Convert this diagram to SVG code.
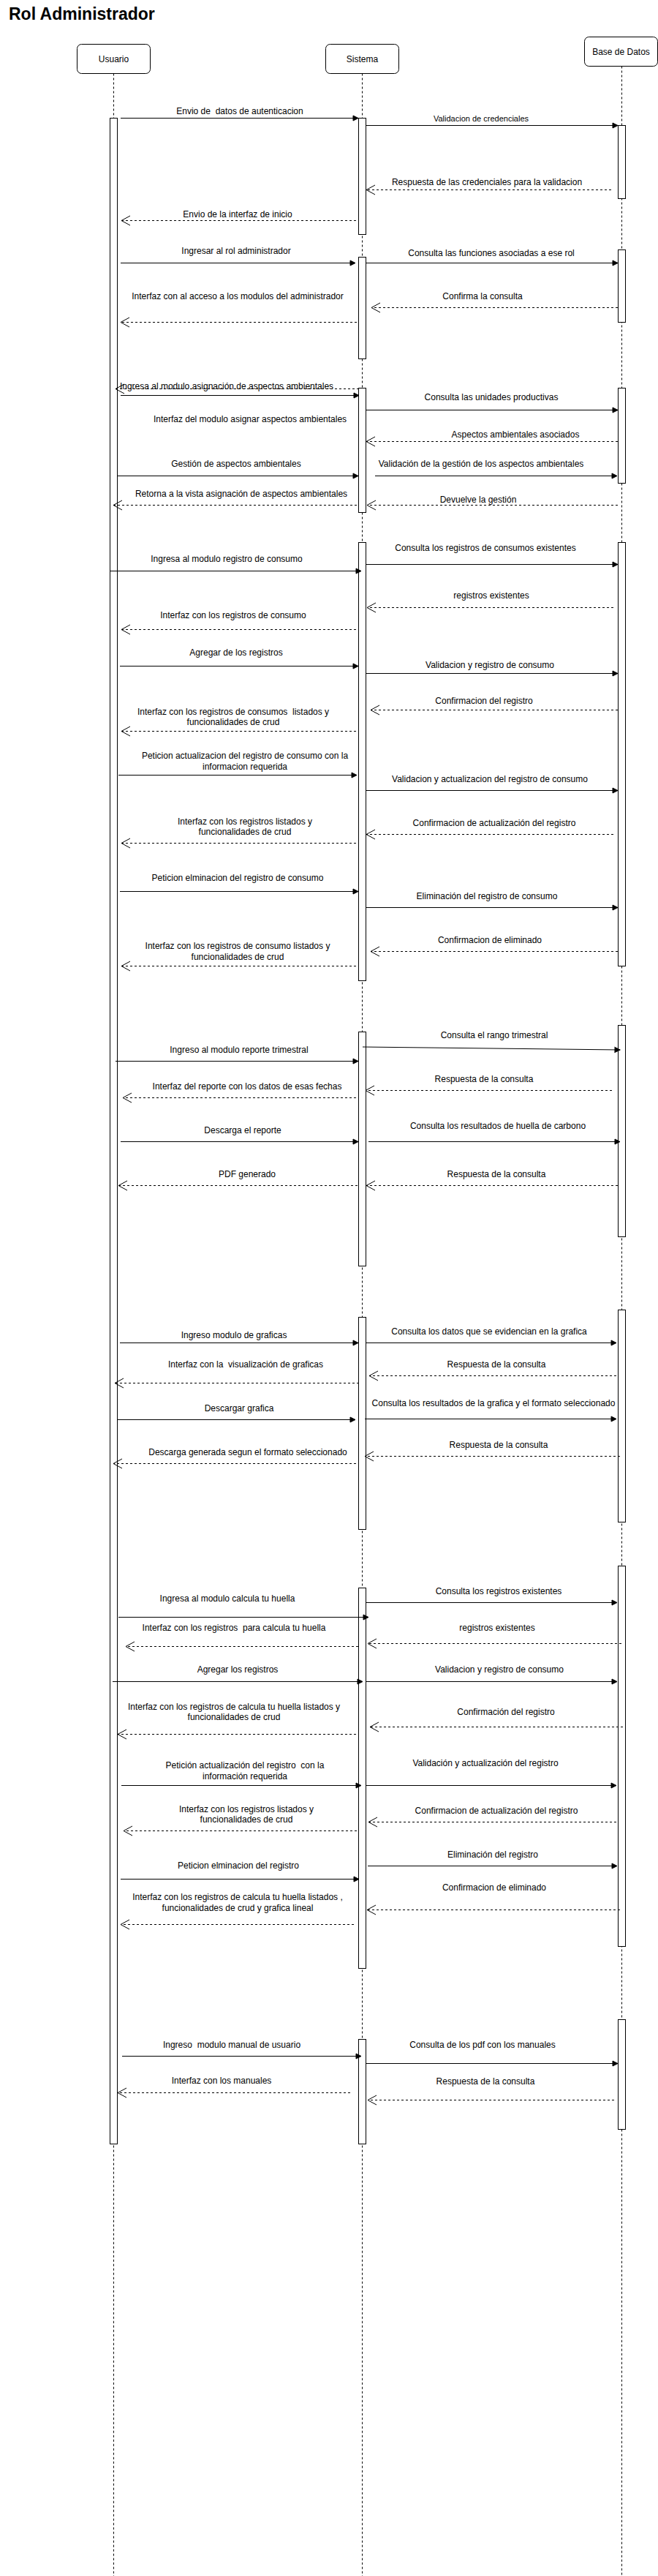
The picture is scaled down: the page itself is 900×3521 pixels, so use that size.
<svg xmlns="http://www.w3.org/2000/svg" width="900" height="3521" viewBox="0 0 900 3521">
<style>
text{font-family:"Liberation Sans",Arial,Helvetica,sans-serif;font-size:12px;fill:#000}
.title{font-size:23px;font-weight:bold}
.c{text-anchor:middle}
.s11{font-size:11px}
.box{fill:#fff;stroke:#000;stroke-width:1}
.life{fill:none;stroke:#000;stroke-width:1;stroke-dasharray:3 3}
.act{fill:#fff;stroke:#000;stroke-width:1}
.msg{fill:none;stroke:#000;stroke-width:1;marker-end:url(#block)}
.ret{fill:none;stroke:#000;stroke-width:1;stroke-dasharray:3 3;marker-end:url(#open)}
</style>
<defs>
<marker id="block" markerUnits="userSpaceOnUse" viewBox="-9 -5 10 10" markerWidth="10" markerHeight="10" refX="0" refY="0" orient="auto" overflow="visible">
<path d="M-7,-3.5 L0,0 L-7,3.5 Z" fill="#000" stroke="#000" stroke-width="1" stroke-dasharray="none"/>
</marker>
<marker id="open" markerUnits="userSpaceOnUse" viewBox="-14 -8 16 16" markerWidth="16" markerHeight="16" refX="0" refY="0" orient="auto" overflow="visible">
<path d="M-12,-6.5 L0,0 L-12,6.5" fill="none" stroke="#000" stroke-width="1" stroke-dasharray="none"/>
</marker>
</defs>
<rect width="900" height="3521" fill="#fff"/>
<text class="title" x="12" y="27">Rol Administrador</text>

<g id="usuario">
<path class="life" d="M155.5,100.5 V3521"/>
<rect class="box" x="105.5" y="60.5" width="100" height="40" rx="6"/>
<text class="c" x="155.5" y="85">Usuario</text>
<rect class="act" x="150.5" y="161.5" width="10" height="2769"/>
</g>

<g id="sistema">
<path class="life" d="M495.5,100.5 V3521"/>
<rect class="box" x="445.5" y="60.5" width="100" height="40" rx="6"/>
<text class="c" x="495.5" y="85">Sistema</text>
<rect class="act" x="490.5" y="161.5" width="10" height="159"/>
<rect class="act" x="490.5" y="351.5" width="10" height="139"/>
<rect class="act" x="490.5" y="530.5" width="10" height="170"/>
<rect class="act" x="490.5" y="741.5" width="10" height="599"/>
<rect class="act" x="490.5" y="1410.5" width="10" height="320"/>
<rect class="act" x="490.5" y="1800.5" width="10" height="290"/>
<rect class="act" x="490.5" y="2170.5" width="10" height="520"/>
<rect class="act" x="490.5" y="2787.5" width="10" height="143"/>
</g>

<g id="basedatos">
<path class="life" d="M850.5,90.5 V3521"/>
<rect class="box" x="799.5" y="50.5" width="100" height="40" rx="6"/>
<text class="c" x="849.5" y="75">Base de Datos</text>
<rect class="act" x="845.5" y="171.5" width="10" height="100"/>
<rect class="act" x="845.5" y="341.5" width="10" height="99"/>
<rect class="act" x="845.5" y="530.5" width="10" height="130"/>
<rect class="act" x="845.5" y="741.5" width="10" height="579"/>
<rect class="act" x="845.5" y="1401.5" width="10" height="289"/>
<rect class="act" x="845.5" y="1790.5" width="10" height="290"/>
<rect class="act" x="845.5" y="2140.5" width="10" height="520"/>
<rect class="act" x="845.5" y="2760.5" width="10" height="150"/>
</g>

<g id="connectors">
<path class="msg" d="M165,161.5 H490"/>
<text class="c" x="328" y="156">Envio de &#160;datos de autenticacion</text>
<path class="msg" d="M500,171.5 H845"/>
<text class="c s11" x="658" y="166">Validacion de credenciales</text>
<path class="ret" d="M836,259.5 H501"/>
<text class="c" x="666" y="253">Respuesta de las credenciales para la validacion</text>
<path class="ret" d="M487,301.5 H166"/>
<text class="c" x="325" y="297">Envio de la interfaz de inicio</text>

<path class="msg" d="M165,359.5 H486"/>
<text class="c" x="323" y="347">Ingresar al rol administrador</text>
<path class="msg" d="M501,359.5 H845"/>
<text class="c" x="672" y="350">Consulta las funciones asociadas a ese rol</text>
<path class="ret" d="M845,420.5 H508"/>
<text class="c" x="660" y="409">Confirma la consulta</text>
<path class="ret" d="M488,440.5 H165"/>
<text class="c" x="325" y="409">Interfaz con al acceso a los modulos del administrador</text>

<path class="ret" d="M491,531.5 H158"/>
<text class="c" x="310" y="532">Ingresa al modulo asignación de aspectos ambientales</text>
<path class="msg" d="M165,540.5 H491"/>
<path class="msg" d="M501,560.5 H845"/>
<text class="c" x="672" y="547">Consulta las unidades productivas</text>
<text class="c" x="342" y="577">Interfaz del modulo asignar aspectos ambientales</text>
<path class="ret" d="M845,603.5 H501"/>
<text class="c" x="705" y="598">Aspectos ambientales asociados</text>
<path class="msg" d="M161,650.5 H490"/>
<text class="c" x="323" y="638">Gestión de aspectos ambientales</text>
<path class="msg" d="M513,650.5 H844"/>
<text class="c" x="658" y="638">Validación de la gestión de los aspectos ambientales</text>
<path class="ret" d="M488,690.5 H155"/>
<text class="c" x="330" y="679">Retorna a la vista asignación de aspectos ambientales</text>
<path class="ret" d="M845,690.5 H502"/>
<text class="c" x="654" y="687">Devuelve la gestión</text>

<path class="msg" d="M501,771.5 H845"/>
<text class="c" x="664" y="753">Consulta los registros de consumos existentes</text>
<path class="msg" d="M150,780.5 H494"/>
<text class="c" x="310" y="768">Ingresa al modulo registro de consumo</text>
<path class="ret" d="M839,830.5 H502"/>
<text class="c" x="672" y="818">registros existentes</text>
<path class="ret" d="M487,860.5 H166"/>
<text class="c" x="319" y="845">Interfaz con los registros de consumo</text>
<path class="msg" d="M164,910.5 H490"/>
<text class="c" x="323" y="896">Agregar de los registros</text>
<path class="msg" d="M501,920.5 H845"/>
<text class="c" x="670" y="913">Validacion y registro de consumo</text>
<path class="ret" d="M845,970.5 H507"/>
<text class="c" x="662" y="962">Confirmacion del registro</text>
<path class="ret" d="M487,999.5 H166"/>
<text class="c" x="319" y="977">Interfaz con los registros de consumos &#160;listados y</text>
<text class="c" x="319" y="991">funcionalidades de crud</text>
<path class="msg" d="M162,1059.5 H488"/>
<text class="c" x="335" y="1037">Peticion actualizacion del registro de consumo con la</text>
<text class="c" x="335" y="1052">informacion requerida</text>
<path class="msg" d="M501,1080.5 H845"/>
<text class="c" x="670" y="1069">Validacion y actualizacion del registro de consumo</text>
<path class="ret" d="M487,1152.5 H166"/>
<text class="c" x="335" y="1127">Interfaz con los registros listados y</text>
<text class="c" x="335" y="1141">funcionalidades de crud</text>
<path class="ret" d="M839,1140.5 H501"/>
<text class="c" x="676" y="1129">Confirmacion de actualización del registro</text>
<path class="msg" d="M164,1218.5 H490"/>
<text class="c" x="325" y="1204">Peticion elminacion del registro de consumo</text>
<path class="msg" d="M501,1240.5 H845"/>
<text class="c" x="666" y="1229">Eliminación del registro de consumo</text>
<path class="ret" d="M845,1300.5 H507"/>
<text class="c" x="670" y="1289">Confirmacion de eliminado</text>
<path class="ret" d="M487,1320.5 H166"/>
<text class="c" x="325" y="1297">Interfaz con los registros de consumo listados y</text>
<text class="c" x="325" y="1312">funcionalidades de crud</text>

<path class="msg" d="M496,1431 L848,1435"/>
<text class="c" x="676" y="1419">Consulta el rango trimestral</text>
<path class="msg" d="M158,1450.5 H490"/>
<text class="c" x="327" y="1439">Ingreso al modulo reporte trimestral</text>
<path class="ret" d="M837,1490.5 H500"/>
<text class="c" x="662" y="1479">Respuesta de la consulta</text>
<path class="ret" d="M487,1500.5 H168"/>
<text class="c" x="338" y="1489">Interfaz del reporte con los datos de esas fechas</text>
<path class="msg" d="M504,1560.5 H848"/>
<text class="c" x="681" y="1543">Consulta los resultados de huella de carbono</text>
<path class="msg" d="M165,1560.5 H490"/>
<text class="c" x="332" y="1549">Descarga el reporte</text>
<path class="ret" d="M489,1620.5 H162"/>
<text class="c" x="338" y="1609">PDF generado</text>
<path class="ret" d="M845,1620.5 H501"/>
<text class="c" x="679" y="1609">Respuesta de la consulta</text>

<path class="msg" d="M164,1835.5 H490"/>
<text class="c" x="320" y="1829">Ingreso modulo de graficas</text>
<path class="msg" d="M500,1835.5 H843"/>
<text class="c" x="669" y="1824">Consulta los datos que se evidencian en la grafica</text>
<path class="ret" d="M491,1890.5 H157"/>
<text class="c" x="336" y="1869">Interfaz con la &#160;visualización de graficas</text>
<path class="ret" d="M843,1880.5 H505"/>
<text class="c" x="679" y="1869">Respuesta de la consulta</text>
<path class="msg" d="M161,1940.5 H486"/>
<text class="c" x="327" y="1929">Descargar grafica</text>
<path class="msg" d="M499,1939.5 H843"/>
<text class="c" x="675" y="1922">Consulta los resultados de la grafica y el formato seleccionado</text>
<path class="ret" d="M848,1990.5 H499"/>
<text class="c" x="682" y="1979">Respuesta de la consulta</text>
<path class="ret" d="M487,2000.5 H155"/>
<text class="c" x="339" y="1989">Descarga generada segun el formato seleccionado</text>

<path class="msg" d="M501,2190.5 H844"/>
<text class="c" x="682" y="2179">Consulta los registros existentes</text>
<path class="msg" d="M162,2210.5 H504"/>
<text class="c" x="311" y="2189">Ingresa al modulo calcula tu huella</text>
<path class="ret" d="M490,2250.5 H172"/>
<text class="c" x="320" y="2229">Interfaz con los registros &#160;para calcula tu huella</text>
<path class="ret" d="M850,2246.5 H503"/>
<text class="c" x="680" y="2229">registros existentes</text>
<path class="msg" d="M154,2298.5 H496"/>
<text class="c" x="325" y="2286">Agregar los registros</text>
<path class="msg" d="M501,2298.5 H844"/>
<text class="c" x="683" y="2286">Validacion y registro de consumo</text>
<path class="ret" d="M487,2370.5 H161"/>
<text class="c" x="320" y="2337">Interfaz con los registros de calcula tu huella listados y</text>
<text class="c" x="320" y="2351">funcionalidades de crud</text>
<path class="ret" d="M852,2360.5 H506"/>
<text class="c" x="692" y="2344">Confirmación del registro</text>
<path class="msg" d="M166,2440.5 H494"/>
<text class="c" x="335" y="2417">Petición actualización del registro &#160;con la</text>
<text class="c" x="335" y="2432">información requerida</text>
<path class="msg" d="M501,2440.5 H843"/>
<text class="c" x="664" y="2414">Validación y actualización del registro</text>
<path class="ret" d="M488,2502.5 H169"/>
<text class="c" x="337" y="2477">Interfaz con los registros listados y</text>
<text class="c" x="337" y="2491">funcionalidades de crud</text>
<path class="ret" d="M843,2490.5 H504"/>
<text class="c" x="679" y="2479">Confirmacion de actualización del registro</text>
<path class="msg" d="M503,2550.5 H844"/>
<text class="c" x="674" y="2539">Eliminación del registro</text>
<path class="msg" d="M165,2568.5 H491"/>
<text class="c" x="326" y="2554">Peticion elminacion del registro</text>
<path class="ret" d="M848,2610.5 H502"/>
<text class="c" x="676" y="2584">Confirmacion de eliminado</text>
<path class="ret" d="M484,2630.5 H165"/>
<text class="c" x="325" y="2597">Interfaz con los registros de calcula tu huella listados ,</text>
<text class="c" x="325" y="2612">funcionalidades de crud y grafica lineal</text>

<path class="msg" d="M167,2810.5 H494"/>
<text class="c" x="317" y="2799">Ingreso &#160;modulo manual de usuario</text>
<path class="msg" d="M501,2820.5 H845"/>
<text class="c" x="660" y="2799">Consulta de los pdf con los manuales</text>
<path class="ret" d="M479,2860.5 H161"/>
<text class="c" x="303" y="2848">Interfaz con los manuales</text>
<path class="ret" d="M840,2870.5 H503"/>
<text class="c" x="664" y="2849">Respuesta de la consulta</text>
</g>
</svg>
